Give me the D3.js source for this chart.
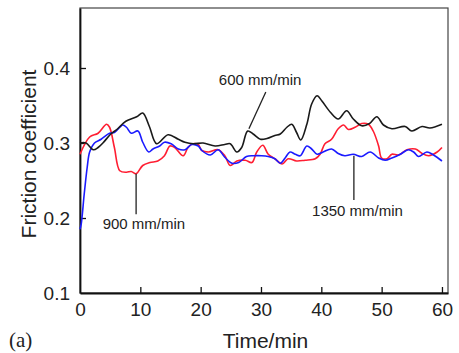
<!DOCTYPE html>
<html>
<head>
<meta charset="utf-8">
<script src="https://cdn.jsdelivr.net/npm/d3@7"></script>
<style>
  body { margin: 0; background: #fff; }
  svg text { font-family: "Liberation Sans", Arial, sans-serif; fill: #222; }
</style>
</head>
<body>
<div id="chart"></div>
<script>
// time (min) and friction coefficient
var time600 = [0, 1, 2.2, 3.0, 3.8, 5.1, 6.1, 7.6, 9.4, 10.4, 11.5, 12.7, 14.6, 16.3, 17.4, 18.8, 20.4, 22.4, 24.0, 24.9, 26.0, 26.8, 27.8, 28.7, 29.9, 31.0, 32.3, 33.2, 34.3, 35.1, 35.9, 36.6, 37.6, 38.4, 39.3, 40.1, 41.5, 42.8, 44.2, 45.3, 46.7, 48.0, 49.2, 50.3, 51.7, 53.9, 55.0, 56.7, 58.0, 60.0];
var fric600 = [0.300, 0.300, 0.291, 0.294, 0.300, 0.312, 0.318, 0.329, 0.335, 0.340, 0.322, 0.299, 0.311, 0.305, 0.301, 0.299, 0.300, 0.296, 0.298, 0.299, 0.288, 0.294, 0.316, 0.312, 0.305, 0.306, 0.310, 0.312, 0.321, 0.325, 0.314, 0.304, 0.325, 0.352, 0.363, 0.356, 0.341, 0.332, 0.343, 0.332, 0.323, 0.326, 0.335, 0.324, 0.319, 0.322, 0.316, 0.322, 0.320, 0.325];

var time900 = [0, 1.6, 3.0, 4.4, 4.9, 5.7, 6.6, 7.7, 8.5, 9.3, 10.4, 11.6, 12.9, 14.0, 14.9, 15.7, 17.1, 17.9, 18.7, 19.6, 20.2, 21.3, 22.9, 24.0, 24.9, 26.0, 27.4, 28.5, 29.3, 30.3, 31.2, 32.3, 33.5, 34.5, 35.9, 37.3, 39.0, 39.8, 40.6, 41.7, 42.8, 43.7, 44.5, 45.6, 46.7, 47.8, 48.6, 49.5, 50.0, 50.9, 51.7, 52.8, 54.2, 55.6, 56.7, 57.8, 59.2, 60.0];
var fric900 = [0.285, 0.308, 0.313, 0.325, 0.321, 0.294, 0.263, 0.261, 0.262, 0.259, 0.270, 0.274, 0.276, 0.283, 0.296, 0.294, 0.283, 0.294, 0.299, 0.298, 0.290, 0.288, 0.291, 0.283, 0.270, 0.276, 0.277, 0.274, 0.288, 0.297, 0.285, 0.279, 0.272, 0.279, 0.276, 0.277, 0.279, 0.285, 0.299, 0.305, 0.319, 0.324, 0.318, 0.321, 0.326, 0.325, 0.316, 0.296, 0.280, 0.279, 0.285, 0.284, 0.291, 0.292, 0.286, 0.283, 0.288, 0.294];

var time1350 = [0, 0.2, 0.7, 1.2, 1.6, 2.4, 3.5, 4.9, 5.7, 6.6, 7.1, 7.7, 8.5, 9.6, 10.4, 11.4, 12.1, 13.2, 14.0, 15.1, 16.3, 17.4, 18.5, 19.6, 20.2, 21.6, 22.9, 24.0, 25.2, 26.3, 27.6, 28.7, 30.1, 31.2, 32.3, 33.2, 34.0, 34.8, 35.7, 36.5, 37.6, 38.4, 39.3, 40.3, 41.7, 42.8, 43.9, 45.3, 46.7, 48.1, 49.5, 50.6, 51.7, 53.1, 54.4, 55.3, 56.1, 57.5, 58.6, 60.0];
var fric1350 = [0.185, 0.192, 0.232, 0.268, 0.288, 0.300, 0.305, 0.313, 0.314, 0.321, 0.324, 0.321, 0.313, 0.316, 0.301, 0.288, 0.292, 0.296, 0.301, 0.299, 0.292, 0.291, 0.298, 0.296, 0.290, 0.284, 0.291, 0.281, 0.273, 0.274, 0.282, 0.283, 0.283, 0.282, 0.279, 0.273, 0.280, 0.288, 0.285, 0.283, 0.296, 0.292, 0.285, 0.288, 0.292, 0.286, 0.283, 0.285, 0.282, 0.288, 0.280, 0.277, 0.280, 0.285, 0.291, 0.288, 0.282, 0.288, 0.284, 0.276];

var xTicks = [0, 10, 20, 30, 40, 50, 60];
var yTicks = [0.1, 0.2, 0.3, 0.4];

// label text, anchor point, leader line start/end (data units)
var labels = ["600 mm/min", "900 mm/min", "1350 mm/min"];
var labelAt = [[29.85, 0.377], [10.6, 0.185], [46.0, 0.203]];
var leaderFrom = [[30.8, 0.368], [9.3, 0.205], [45.4, 0.224]];
var leaderTo = [[28.0, 0.319], [9.3, 0.259], [45.4, 0.283]];

var margin = {top: 8, right: 11, bottom: 60, left: 80};
var W = 459, H = 353;
var width = W - margin.left - margin.right;
var height = H - margin.top - margin.bottom;

var svg = d3.select("#chart").append("svg")
    .attr("width", W)
    .attr("height", H);

var g = svg.append("g")
    .attr("transform", "translate(" + margin.left + "," + margin.top + ")");

var x = d3.scaleLinear().domain([0, 61]).range([0, width]);
var y = d3.scaleLinear().domain([0.1, 0.48]).range([height, 0]);

// frame: thin top/right
g.append("rect")
    .attr("x", 0).attr("y", 0)
    .attr("width", width).attr("height", height)
    .attr("fill", "none")
    .attr("stroke", "#444")
    .attr("stroke-width", 1.2);

var xAxis = d3.axisBottom(x).tickValues(xTicks).tickSizeInner(-6).tickSizeOuter(0).tickPadding(10)
    .tickFormat(d3.format("d"));
var yAxis = d3.axisLeft(y).tickValues(yTicks).tickSizeInner(-6).tickSizeOuter(0).tickPadding(10)
    .tickFormat(d3.format(".1f"));

var gx = g.append("g")
    .attr("transform", "translate(0," + height + ")")
    .call(xAxis);
var gy = g.append("g").call(yAxis);

[gx, gy].forEach(function(a) {
    a.select(".domain").attr("stroke", "#111").attr("stroke-width", 1.8);
    a.selectAll(".tick line").attr("stroke", "#111").attr("stroke-width", 1.3);
    a.selectAll(".tick text")
        .attr("font-size", 19)
        .attr("font-family", "Liberation Sans, Arial, sans-serif")
        .attr("fill", "#222");
});
gx.selectAll(".tick").filter(function(d) { return d === 0; }).select("line").remove();
gy.selectAll(".tick").filter(function(d) { return d === 0.1; }).select("line").remove();

var line = d3.line()
    .x(function(d) { return x(d[0]); })
    .y(function(d) { return y(d[1]); })
    .curve(d3.curveCatmullRom.alpha(0.5));

var series = [
    {t: time900, v: fric900, color: "#ff1e32"},
    {t: time1350, v: fric1350, color: "#1a1aff"},
    {t: time600, v: fric600, color: "#1a1a1a"}
];

series.forEach(function(s) {
    var pts = s.t.map(function(t, i) { return [t, s.v[i]]; });
    g.append("path")
        .datum(pts)
        .attr("fill", "none")
        .attr("stroke", s.color)
        .attr("stroke-width", 1.6)
        .attr("stroke-linejoin", "round")
        .attr("d", line);
});

// leader lines + labels
labels.forEach(function(txt, i) {
    g.append("line")
        .attr("x1", x(leaderFrom[i][0])).attr("y1", y(leaderFrom[i][1]))
        .attr("x2", x(leaderTo[i][0])).attr("y2", y(leaderTo[i][1]))
        .attr("stroke", "#222")
        .attr("stroke-width", 1.3);
    g.append("text")
        .attr("x", x(labelAt[i][0]))
        .attr("y", y(labelAt[i][1]))
        .attr("text-anchor", "middle")
        .attr("font-size", 15)
        .text(txt);
});

// axis titles
svg.append("text")
    .attr("x", 265.5)
    .attr("y", 348)
    .attr("text-anchor", "middle")
    .attr("font-size", 21)
    .text("Time/min");

svg.append("text")
    .attr("transform", "translate(36,154) rotate(-90)")
    .attr("text-anchor", "middle")
    .attr("font-size", 21)
    .text("Friction coefficient");

svg.append("text")
    .attr("x", 9)
    .attr("y", 347)
    .attr("font-size", 21)
    .style("font-family", "Liberation Serif, Times New Roman, serif")
    .text("(a)");
</script>
</body>
</html>
